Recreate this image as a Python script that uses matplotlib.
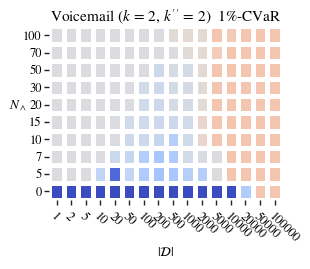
import matplotlib
matplotlib.use("Agg")
import matplotlib.pyplot as plt
import numpy as np

plt.rcParams['font.family'] = ['STIXGeneral', 'DejaVu Serif']
plt.rcParams['mathtext.fontset'] = 'stix'

dataset_sizes = ["1", "2", "5", "10", "20", "50", "100", "200", "500", "1000",
                 "2000", "5000", "10000", "20000", "50000", "100000"]
n_wedge = ["100", "70", "50", "30", "20", "15", "10", "7", "5", "0"]

# colour-scale values (0 = deep blue, 0.5 = neutral grey, 1 = deep red), rows top to bottom
row_100 = [.49, .49, .49, .49, .49, .49, .49, .49, .52, .53, .53, .62, .60, .62, .62, .62]
row_70 = [.49, .49, .49, .49, .49, .49, .49, .49, .49, .52, .52, .59, .62, .62, .62, .62]
row_50 = [.49, .49, .49, .49, .49, .49, .49, .44, .47, .47, .53, .62, .62, .62, .62, .62]
row_30 = [.49, .49, .49, .49, .49, .49, .46, .44, .47, .47, .52, .62, .62, .62, .62, .62]
row_20 = [.49, .49, .49, .49, .49, .49, .45, .44, .47, .47, .52, .62, .62, .62, .62, .62]
row_15 = [.49, .49, .49, .49, .49, .45, .45, .44, .44, .46, .55, .62, .62, .62, .62, .62]
row_10 = [.49, .49, .49, .49, .49, .44, .44, .42, .37, .45, .55, .62, .62, .62, .62, .62]
row_7 = [.49, .49, .49, .49, .44, .42, .36, .33, .35, .46, .48, .49, .62, .62, .62, .62]
row_5 = [.49, .49, .49, .40, .07, .41, .35, .32, .33, .37, .37, .50, .62, .62, .62, .62]
row_0 = [0, 0, 0, 0, 0, 0, 0, 0, 0, 0, 0, 0, 0, .36, .62, .62]

values = np.array([row_100, row_70, row_50, row_30, row_20, row_15,
                   row_10, row_7, row_5, row_0])

fig = plt.figure(figsize=(3.10, 2.69), dpi=100)
ax = fig.add_axes([0.159, 0.2565, 0.75, 0.645])

ax.pcolormesh(values, cmap='coolwarm', vmin=0, vmax=1,
              edgecolors='white', linewidth=2.5)
ax.set_xlim(0, len(dataset_sizes))
ax.set_ylim(len(n_wedge), 0)

for s in ax.spines.values():
    s.set_visible(False)

ax.set_xticks(np.arange(len(dataset_sizes)) + 0.5)
ax.set_xticklabels(dataset_sizes, rotation=-45, ha='left', va='top',
                   rotation_mode='anchor', fontsize=9)
ax.set_yticks(np.arange(len(n_wedge)) + 0.5)
ax.set_yticklabels(n_wedge, fontsize=9)
ax.tick_params(axis='both', length=3.5, width=1, color='#222222', pad=2)
ax.tick_params(axis='x', pad=4)

ax.set_xlabel(r'$|\mathcal{D}|$', fontsize=9.5, va='center')
ax.xaxis.set_label_coords(0.5, -0.30)
ax.set_ylabel(r'$N_\wedge$', fontsize=9.5, rotation=0)
ax.set_title(r"Voicemail ($k\,=\,2,\,k''\,=\,2$)  1%-CVaR", fontsize=11, pad=4)

fig.savefig('out.png', dpi=100)
